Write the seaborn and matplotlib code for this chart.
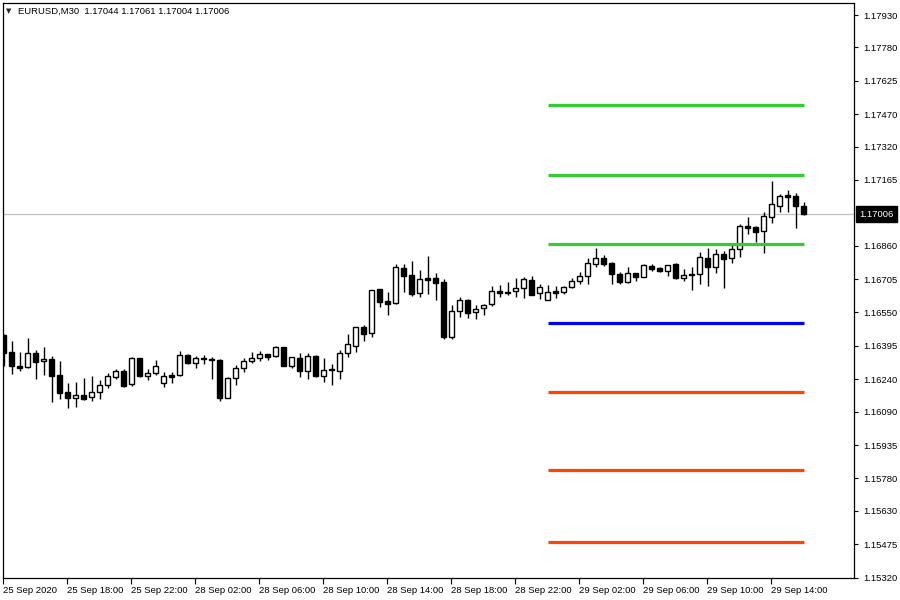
import matplotlib
matplotlib.use("Agg")
import matplotlib.pyplot as plt
import seaborn as sns
import pandas as pd
import numpy as np

# EURUSD M30 candles, 25 Sep 14:00 -> 29 Sep 16:00
opens = [1.16446, 1.16365, 1.16302, 1.16296, 1.16361, 1.16324, 1.16334, 1.16259, 1.16180, 1.16155,
         1.16166, 1.16157, 1.16183, 1.16212, 1.16249, 1.16277, 1.16217, 1.16337, 1.16254, 1.16268,
         1.16224, 1.16260, 1.16259, 1.16351, 1.16317, 1.16339, 1.16334, 1.16330, 1.16155, 1.16245,
         1.16291, 1.16324, 1.16337, 1.16356, 1.16347, 1.16389, 1.16303, 1.16337, 1.16280, 1.16347,
         1.16257, 1.16286, 1.16280, 1.16363, 1.16396, 1.16481, 1.16453, 1.16658, 1.16603, 1.16593,
         1.16756, 1.16724, 1.16639, 1.16710, 1.16710, 1.16692, 1.16438, 1.16556, 1.16607, 1.16554,
         1.16569, 1.16588, 1.16650, 1.16644, 1.16648, 1.16662, 1.16701, 1.16639, 1.16609, 1.16650,
         1.16644, 1.16667, 1.16698, 1.16719, 1.16774, 1.16801, 1.16778, 1.16729, 1.16693, 1.16732,
         1.16716, 1.16766, 1.16755, 1.16741, 1.16774, 1.16711, 1.16727, 1.16727, 1.16801, 1.16763,
         1.16820, 1.16801, 1.16843, 1.16951, 1.16947, 1.16930, 1.16995, 1.17046, 1.17097, 1.17091,
         1.17044]
highs = [1.16450, 1.16418, 1.16365, 1.16430, 1.16375, 1.16389, 1.16347, 1.16325, 1.16221, 1.16226,
         1.16245, 1.16255, 1.16235, 1.16268, 1.16288, 1.16288, 1.16342, 1.16340, 1.16286, 1.16330,
         1.16273, 1.16274, 1.16371, 1.16356, 1.16348, 1.16351, 1.16344, 1.16334, 1.16252, 1.16305,
         1.16337, 1.16365, 1.16370, 1.16356, 1.16393, 1.16391, 1.16342, 1.16361, 1.16361, 1.16351,
         1.16339, 1.16311, 1.16375, 1.16450, 1.16484, 1.16491, 1.16654, 1.16660, 1.16647, 1.16774,
         1.16775, 1.16788, 1.16747, 1.16812, 1.16733, 1.16704, 1.16585, 1.16621, 1.16611, 1.16583,
         1.16589, 1.16673, 1.16678, 1.16690, 1.16709, 1.16713, 1.16719, 1.16682, 1.16678, 1.16674,
         1.16673, 1.16711, 1.16738, 1.16801, 1.16848, 1.16817, 1.16786, 1.16737, 1.16761, 1.16735,
         1.16775, 1.16775, 1.16763, 1.16772, 1.16778, 1.16750, 1.16760, 1.16829, 1.16848, 1.16843,
         1.16837, 1.16861, 1.16959, 1.16993, 1.16951, 1.17018, 1.17160, 1.17100, 1.17118, 1.17103,
         1.17061]
lows = [1.16302, 1.16266, 1.16280, 1.16294, 1.16243, 1.16260, 1.16136, 1.16147, 1.16108, 1.16113,
        1.16144, 1.16141, 1.16147, 1.16201, 1.16240, 1.16206, 1.16210, 1.16251, 1.16235, 1.16261,
        1.16206, 1.16224, 1.16257, 1.16312, 1.16294, 1.16312, 1.16240, 1.16141, 1.16152, 1.16215,
        1.16275, 1.16317, 1.16326, 1.16331, 1.16345, 1.16302, 1.16294, 1.16252, 1.16243, 1.16252,
        1.16229, 1.16215, 1.16243, 1.16345, 1.16368, 1.16419, 1.16438, 1.16577, 1.16538, 1.16590,
        1.16647, 1.16627, 1.16623, 1.16637, 1.16608, 1.16428, 1.16428, 1.16529, 1.16526, 1.16520,
        1.16540, 1.16582, 1.16621, 1.16630, 1.16623, 1.16619, 1.16632, 1.16614, 1.16608, 1.16619,
        1.16636, 1.16662, 1.16681, 1.16682, 1.16760, 1.16766, 1.16682, 1.16681, 1.16685, 1.16698,
        1.16716, 1.16744, 1.16738, 1.16719, 1.16705, 1.16698, 1.16654, 1.16682, 1.16673, 1.16735,
        1.16665, 1.16778, 1.16809, 1.16913, 1.16879, 1.16827, 1.16967, 1.17018, 1.17018, 1.16943,
        1.17004]
closes = [1.16362, 1.16302, 1.16294, 1.16361, 1.16322, 1.16334, 1.16257, 1.16178, 1.16155, 1.16167,
          1.16150, 1.16183, 1.16212, 1.16255, 1.16277, 1.16210, 1.16339, 1.16254, 1.16268, 1.16300,
          1.16254, 1.16252, 1.16351, 1.16317, 1.16337, 1.16333, 1.16328, 1.16155, 1.16247, 1.16291,
          1.16324, 1.16337, 1.16359, 1.16345, 1.16389, 1.16303, 1.16342, 1.16280, 1.16347, 1.16257,
          1.16282, 1.16285, 1.16361, 1.16402, 1.16481, 1.16452, 1.16653, 1.16600, 1.16591, 1.16760,
          1.16721, 1.16637, 1.16704, 1.16702, 1.16688, 1.16438, 1.16557, 1.16607, 1.16549, 1.16566,
          1.16583, 1.16648, 1.16642, 1.16642, 1.16662, 1.16704, 1.16633, 1.16667, 1.16647, 1.16642,
          1.16667, 1.16696, 1.16719, 1.16778, 1.16801, 1.16776, 1.16727, 1.16693, 1.16732, 1.16716,
          1.16770, 1.16752, 1.16741, 1.16770, 1.16711, 1.16724, 1.16725, 1.16806, 1.16763, 1.16820,
          1.16800, 1.16844, 1.16951, 1.16943, 1.16925, 1.16998, 1.17053, 1.17091, 1.17087, 1.17046,
          1.17006]

# daily pivot levels (R3..S3) drawn from 29 Sep 00:00
level_names = ["R3", "R2", "R1", "PP", "S1", "S2", "S3"]
level_values = [1.17512, 1.17187, 1.16867, 1.16500, 1.16179, 1.15817, 1.15487]
level_colors = ["#32cd32", "#32cd32", "#32cd32", "#0000ff", "#ff4500", "#ff4500", "#ff4500"]
level_start, level_end = 68, 100

xtick_pos = [0, 8, 16, 24, 32, 40, 48, 56, 64, 72, 80, 88, 96]
xtick_labels = ["25 Sep 2020", "25 Sep 18:00", "25 Sep 22:00", "28 Sep 02:00", "28 Sep 06:00",
                "28 Sep 10:00", "28 Sep 14:00", "28 Sep 18:00", "28 Sep 22:00", "29 Sep 02:00",
                "29 Sep 06:00", "29 Sep 10:00", "29 Sep 14:00"]
yticks = [1.17930, 1.17780, 1.17625, 1.17470, 1.17320, 1.17165, 1.16860, 1.16705, 1.16550,
          1.16395, 1.16240, 1.16090, 1.15935, 1.15780, 1.15630, 1.15475, 1.15320]

sns.set_style("white")
plt.rcParams["font.family"] = ["Liberation Sans", "DejaVu Sans"]

fig = plt.figure(figsize=(9, 6), dpi=100)
ax = fig.add_axes([3 / 900, 22 / 600, 851 / 900, 575 / 600])

df = pd.DataFrame({"o": opens, "h": highs, "l": lows, "c": closes})
df["x"] = np.arange(len(df))
up = df[df["c"] >= df["o"]]
down = df[df["c"] < df["o"]]

# wicks
ax.vlines(df["x"], df["l"], df["h"], color="black", lw=1.0, zorder=2)
# bodies
ax.bar(up["x"], (up["c"] - up["o"]).clip(lower=0.000015), bottom=up["o"], width=0.62,
       facecolor="white", edgecolor="black", lw=1.0, zorder=3)
ax.bar(down["x"], (down["o"] - down["c"]).clip(lower=0.000015), bottom=down["c"], width=0.62,
       facecolor="black", edgecolor="black", lw=1.0, zorder=3)

# pivot levels
lv = pd.DataFrame({
    "level": level_names * 2,
    "x": [level_start] * 7 + [level_end] * 7,
    "y": level_values * 2,
})
sns.lineplot(data=lv, x="x", y="y", hue="level", palette=dict(zip(level_names, level_colors)),
             lw=2.3, legend=False, ax=ax, zorder=4)
for line in ax.lines:
    line.set_solid_capstyle("butt")

# last price line
last = closes[-1]
ax.axhline(last, color="#c0c0c0", lw=0.9, zorder=1)

ax.set_xlim(-0.075, 106.3)
ax.set_ylim(1.15318, 1.17986)

ax.yaxis.tick_right()
ax.set_yticks(yticks)
ax.set_yticklabels([f"{v:.5f}" for v in yticks])
ax.set_xticks([p - 0.075 for p in xtick_pos])
ax.set_xticklabels(xtick_labels, ha="left")
ax.tick_params(axis="y", direction="out", length=3, width=0.8, pad=3.5, labelsize=6.8, colors="black",
               right=True, left=False)
ax.tick_params(axis="x", direction="out", length=4, width=0.8, pad=2, labelsize=6.8, colors="black",
               bottom=True)
ax.set_xlabel("")
ax.set_ylabel("")
for s in ax.spines.values():
    s.set_visible(True)
    s.set_color("black")
    s.set_linewidth(0.9)

# current price box
ax.annotate(f"{last:.5f}", xy=(1.0, last), xycoords=("axes fraction", "data"),
            xytext=(4, 0), textcoords="offset points", ha="left", va="center",
            fontsize=6.8, color="white",
            bbox=dict(boxstyle="square,pad=0.35", fc="black", ec="black"))

# header
fig.text(6 / 900, 1 - 11 / 600, "\u25bc", fontsize=5, va="center", ha="left",
         family=["DejaVu Sans"])
fig.text(18 / 900, 1 - 11 / 600, "EURUSD,M30  1.17044 1.17061 1.17004 1.17006",
         fontsize=6.8, va="center", ha="left", color="black")

fig.savefig("out.png", dpi=100, facecolor="white")
